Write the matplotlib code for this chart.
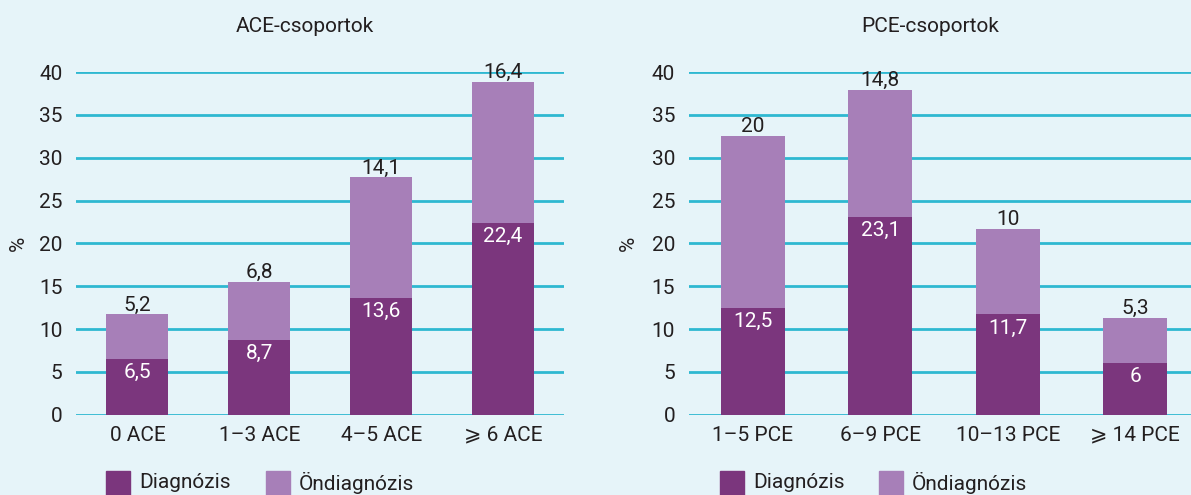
import matplotlib.pyplot as plt
from matplotlib.patches import Rectangle

plt.rcParams['font.family'] = ['Roboto', 'DejaVu Sans']

ace_labels = ['0 ACE', '1–3 ACE', '4–5 ACE', '⩾ 6 ACE']
ace_diag = [6.5, 8.7, 13.6, 22.4]
ace_self = [5.2, 6.8, 14.1, 16.4]

pce_labels = ['1–5 PCE', '6–9 PCE', '10–13 PCE', '⩾ 14 PCE']
pce_diag = [12.5, 23.1, 11.7, 6]
pce_self = [20, 14.8, 10, 5.3]

legend_names = ['Diagnózis', 'Öndiagnózis']

bg = '#e6f4f9'
dark = '#7b367d'
light = '#a77fb8'
grid_c = '#2eb8d1'
txt = '#231f20'
fs = 15
W, H = 1191, 495

fig = plt.figure(figsize=(11.91, 4.95), dpi=100, facecolor=bg)


def fmt(v):
    return f'{v:g}'.replace('.', ',')


def panel(rect, labels, diag, self_, title, title_x, ylab_x, bw):
    ax = fig.add_axes(rect)
    ax.set_facecolor(bg)
    x = range(len(labels))
    ax.bar(x, diag, width=bw, color=dark, zorder=3)
    ax.bar(x, self_, bottom=diag, width=bw, color=light, zorder=3)
    for i, (d, s) in enumerate(zip(diag, self_)):
        ax.annotate(fmt(d), (i, d), xytext=(0, -3), textcoords='offset points',
                    ha='center', va='top', color='white', fontsize=fs)
        ax.annotate(fmt(s), (i, d + s), xytext=(0, 0), textcoords='offset points',
                    ha='center', va='bottom', color=txt, fontsize=fs,
                    annotation_clip=False)
    ax.set_xlim(-0.5, len(labels) - 0.5)
    ax.set_ylim(0, 40)
    ax.set_yticks(range(0, 41, 5))
    ax.set_xticks(list(x))
    ax.set_xticklabels(labels)
    ax.tick_params(length=0, labelsize=fs, colors=txt, pad=8)
    ax.tick_params(axis='y', pad=10)
    for sp in ax.spines.values():
        sp.set_visible(False)
    ax.grid(axis='y', color=grid_c, lw=2, zorder=1)
    ax.set_axisbelow(True)
    fig.text(ylab_x / W, 1 - 243 / H, '%', rotation=90, ha='center', va='center',
             fontsize=fs, color=txt)
    fig.text(title_x / W, 1 - 27 / H, title, ha='center', va='center',
             fontsize=fs, color=txt)
    return ax


panel([0.0642, 0.1622, 0.4094, 0.6923], ace_labels, ace_diag, ace_self,
      'ACE-csoportok', 305, 18, 0.51)
panel([0.5785, 0.1622, 0.4282, 0.6923], pce_labels, pce_diag, pce_self,
      'PCE-csoportok', 930, 628, 0.5)

# legends
for x0s in ([106, 266], [720, 879]):
    for x0, c, name in zip(x0s, [dark, light], legend_names):
        fig.patches.append(Rectangle((x0 / W, 0), 24 / W, 24 / H,
                                     transform=fig.transFigure, color=c))
        fig.text((x0 + 33) / W, 12 / H, name, ha='left', va='center',
                 fontsize=fs, color=txt)

fig.savefig('out.png', dpi=100, facecolor=bg)
